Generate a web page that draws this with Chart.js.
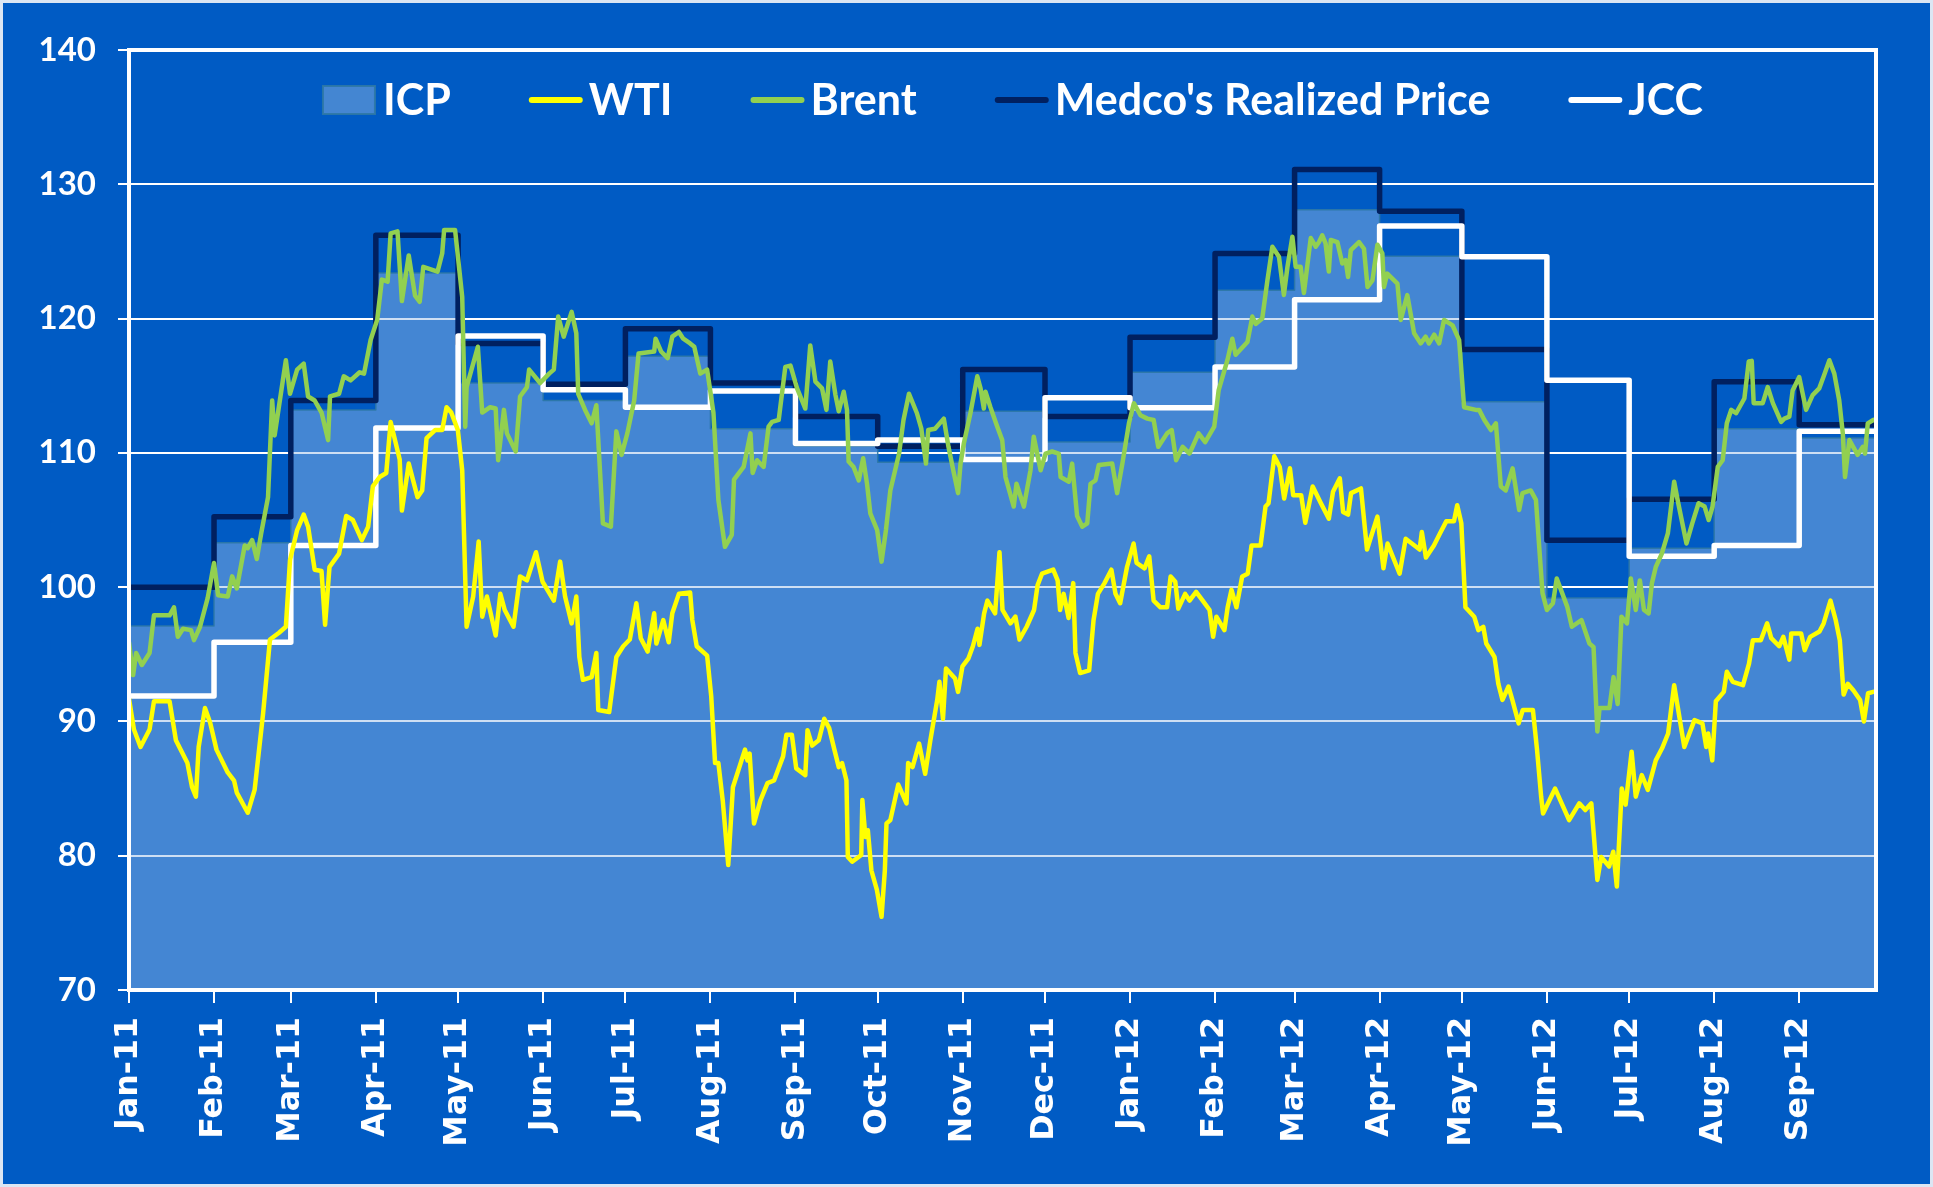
<!DOCTYPE html>
<html>
<head>
<meta charset="utf-8">
<script src="https://cdn.jsdelivr.net/npm/chart.js@4.4.1/dist/chart.umd.min.js"></script>
<style>
html, body { margin: 0; padding: 0; background: #005BC4; }
#wrap { width: 1933px; height: 1187px; position: relative; }
#edge { position: absolute; left: 0; top: 0; width: 1933px; height: 1187px; box-sizing: border-box;
        border: 3px solid #DCE6F3; pointer-events: none; }
canvas { display: block; }
</style>
</head>
<body>
<div id="wrap"><canvas id="chart" width="1933" height="1187"></canvas><div id="edge"></div></div>
<script>
// ---------- DATA ----------
const monthLabels = ['Jan-11','Feb-11','Mar-11','Apr-11','May-11','Jun-11','Jul-11','Aug-11','Sep-11','Oct-11','Nov-11','Dec-11',
                     'Jan-12','Feb-12','Mar-12','Apr-12','May-12','Jun-12','Jul-12','Aug-12','Sep-12'];
const yTickValues = [70, 80, 90, 100, 110, 120, 130, 140];

// monthly series (US$/bbl)
const icpMonthly   = [97.1, 103.3, 113.2, 123.4, 115.2, 113.9, 117.2, 111.8, 110.5, 109.3, 113.1, 110.8,
                      116.0, 122.1, 128.1, 124.65, 113.8, 99.2, 102.9, 111.8, 111.1];
const medcoMonthly = [100.0, 105.25, 113.9, 126.2, 118.15, 115.1, 119.25, 115.2, 112.7, 110.5, 116.2, 112.7,
                      118.6, 124.85, 131.1, 128.0, 117.7, 103.5, 106.55, 115.3, 112.1];
const jccMonthly   = [91.9, 95.9, 103.1, 111.85, 118.7, 114.7, 113.4, 114.6, 110.7, 110.95, 109.5, 114.1,
                      113.35, 116.4, 121.4, 126.9, 124.6, 115.4, 102.3, 103.1, 111.6];

// daily-ish series: days since 1 Jan 2011, price
const wtiDays = [
  0,1.8,4.2,7.5,9.1,14.8,17.1,21.3,23.0,24.4,
  25.4,27.7,29.6,31.9,36.0,38.3,39.3,43.3,45.8,48.9,
  51.4,54.7,57.2,58.7,61.3,63.7,65.3,67.7,70.2,71.5,
  73.1,76.6,79.2,81.6,84.9,87.2,88.9,91.4,93.8,95.4,
  98.7,99.5,102.0,105.2,106.9,108.5,111.6,114.2,115.8,117.5,
  119.9,121.5,123.1,125.5,127.5,128.8,130.5,133.7,135.4,137.0,
  140.2,142.6,145.1,148.4,150.8,154.9,157.2,159.0,161.4,163.1,
  164.2,165.5,168.7,170.4,171.1,175.1,177.7,180.2,182.6,185.0,
  186.6,189.1,191.5,192.3,194.8,196.8,198.1,200.5,204.6,205.4,
  207.0,210.8,212.3,213.7,214.9,216.5,218.5,220.2,224.6,225.5,
  226.3,227.9,230.2,232.8,235.2,238.5,239.7,241.7,243.3,246.6,
  247.4,249.1,251.5,253.5,255.3,257.2,258.8,260.0,261.6,262.1,
  263.7,267.0,267.4,268.5,269.4,270.7,272.7,274.4,275.6,276.2,
  277.6,280.5,283.5,284.1,285.7,288.1,290.3,292.2,294.7,295.5,
  296.8,297.9,301.2,302.3,303.9,306.1,307.7,309.4,310.1,311.8,
  313.0,315.8,317.4,318.5,321.4,323.2,324.7,327.3,330.0,331.3,
  332.9,337.0,338.6,339.5,340.8,342.6,344.3,345.1,346.8,350.1,
  351.7,353.3,355.7,358.2,359.7,361.4,363.9,366.3,367.4,370.3,
  372.0,373.6,376.1,378.5,379.8,381.5,382.6,385.1,386.7,389.1,
  391.5,394.0,395.3,396.5,399.4,400.6,402.0,403.8,405.9,407.9,
  409.3,412.6,414.4,415.5,417.6,419.6,421.2,423.3,424.5,427.4,
  428.9,431.6,434.6,437.5,439.0,441.5,442.7,444.5,445.6,449.2,
  451.4,455.2,457.4,458.9,463.3,465.5,470.6,471.4,472.9,475.8,
  478.0,480.3,483.1,484.3,485.8,487.3,490.5,492.0,493.8,494.9,
  497.9,499.3,500.8,503.0,504.4,506.7,508.2,511.9,513.4,514.9,
  515.6,520.0,525.1,528.8,531.0,533.2,535.4,536.8,539.7,541.2,
  542.5,544.3,545.7,547.9,549.4,551.6,553.8,556.7,559.0,561.2,
  563.4,567.1,570.8,573.7,575.1,575.8,577.3,578.6,581.5,582.6,
  584.8,588.5,590.7,592.1,595.0,597.3,598.8,601.7,603.2,605.4,
  606.1,609.7,611.0,613.0,616.4,617.9,620.4,622.3,623.8,625.2,
  626.7,628.8,631.2,632.6,634.1,636
];
const wtiPrices = [
  91.7,89.4,88.1,89.4,91.5,91.5,88.6,86.9,85.1,84.4,
  88.1,91.0,89.9,87.9,86.2,85.6,84.7,83.2,84.9,90.6,
  96.1,96.6,97.05,102.0,104.25,105.4,104.5,101.3,101.2,97.2,
  101.5,102.5,105.3,105.0,103.5,104.5,107.5,108.2,108.5,112.3,
  109.5,105.7,109.2,106.7,107.2,111.1,111.7,111.7,113.4,113.0,
  111.7,108.7,97.05,99.3,103.4,97.8,99.3,96.4,99.5,98.3,
  97.05,100.8,100.5,102.6,100.4,99.0,101.9,99.3,97.3,99.3,
  94.8,93.1,93.3,95.1,90.85,90.7,94.8,95.6,96.1,98.8,
  96.2,95.2,98.05,95.8,97.55,95.9,98.05,99.5,99.6,97.55,
  95.6,94.9,91.85,86.9,86.9,84.1,79.3,85.1,87.9,87.1,
  87.6,82.4,84.1,85.4,85.6,87.4,89.0,89.0,86.5,86.0,
  89.35,88.2,88.6,90.2,89.5,87.9,86.6,86.9,85.6,79.9,
  79.55,80.05,84.15,81.4,81.9,78.9,77.45,75.45,78.9,82.4,
  82.65,85.3,83.9,86.9,86.6,88.35,86.1,88.6,91.6,92.95,
  90.2,93.95,93.2,92.2,94.1,94.7,95.6,96.9,95.7,98.05,
  99.0,98.05,102.6,98.3,97.3,97.8,96.1,97.05,98.3,100.15,
  101.0,101.3,100.5,98.3,99.5,97.7,100.3,95.1,93.6,93.8,
  97.55,99.5,100.3,101.3,99.5,98.8,101.5,103.25,101.8,101.4,
  102.3,99.0,98.5,98.5,100.8,100.4,98.4,99.5,99.0,99.65,
  99.0,98.3,96.3,97.8,96.8,98.5,99.8,98.5,100.8,101.0,
  103.1,103.1,106.0,106.25,109.75,108.95,106.6,108.85,106.85,106.85,
  104.8,107.5,106.25,105.1,107.1,108.1,105.6,105.4,107.0,107.35,
  102.8,105.25,101.4,103.25,101.0,103.6,102.8,104.1,102.2,103.1,
  104.0,104.9,104.9,106.1,104.75,98.5,97.8,96.8,97.05,95.8,
  94.8,92.8,91.6,92.6,91.6,89.85,90.85,90.85,87.9,84.4,
  83.15,85.0,82.65,83.9,83.4,83.9,78.2,79.9,79.2,80.3,
  77.7,85.0,83.8,87.75,84.4,86.0,84.9,87.1,88.0,89.1,
  92.7,88.1,90.1,89.85,88.1,89.1,87.1,91.5,92.2,93.7,
  92.95,92.7,94.3,96.05,96.05,97.3,96.2,95.6,96.3,94.6,
  96.55,96.55,95.3,96.3,96.7,97.3,99.0,97.55,96.05,92.0,
  92.8,92.3,91.6,90.0,92.1,92.2
];

const brentDays = [
  0,1.5,2.6,4.7,7.5,9.1,14.8,16.4,17.8,19.7,
  22.6,23.7,25.9,28.7,31.0,32.5,36.0,37.6,39.3,42.2,
  43.3,44.9,46.6,48.2,50.7,52.2,53.1,57.2,58.7,61.3,
  63.7,65.3,67.7,70.2,72.6,73.3,76.6,78.3,80.8,84.1,
  85.7,88.1,90.5,92.2,94.3,95.4,97.9,99.5,102.0,104.3,
  106.0,107.3,112.5,114.2,114.9,118.9,121.5,122.6,123.1,127.2,
  128.8,131.7,133.7,134.6,136.7,137.8,141.0,142.6,145.1,145.9,
  149.9,153.2,154.9,156.5,158.5,161.4,163.1,163.8,166.3,168.7,
  170.4,172.8,175.7,177.7,179.6,181.7,184.2,185.8,191.5,192.0,
  194.0,196.4,198.1,200.5,202.1,204.6,206.1,208.3,210.8,213.1,
  214.9,217.3,219.8,220.6,224.1,226.6,227.4,229.0,231.4,233.2,
  234.5,236.9,239.3,241.2,243.6,246.6,248.4,250.3,252.7,254.3,
  255.7,257.6,258.8,260.6,261.8,262.4,264.2,266.1,267.7,269.1,
  270.3,272.8,274.4,276.0,277.6,280.8,282.4,284.4,287.3,288.9,
  290.6,291.4,293.9,297.1,298.8,300.3,302.3,303.2,304.4,306.8,
  309.3,310.5,311.7,312.3,314.1,316.6,318.4,319.6,322.6,323.6,
  326.3,328.7,329.9,332.4,334.2,336.6,339.0,339.7,342.7,343.9,
  345.7,347.6,349.4,350.6,352.4,353.6,358.5,360.3,362.2,364.6,
  366.4,368.8,371.3,373.6,375.3,378.5,380.2,381.8,384.2,386.7,
  390.0,392.4,395.7,397.3,400.5,402.3,403.5,407.8,409.6,410.8,
  413.2,415.1,416.9,419.3,421.1,422.4,424.2,425.4,427.2,428.4,
  430.9,432.7,433.9,435.1,436.3,437.5,438.2,440.6,442.4,443.6,
  444.5,445.5,448.5,450.3,451.6,453.4,455.2,457.0,457.6,458.8,
  462.5,463.7,466.1,468.6,471.0,472.8,474.0,475.9,477.7,479.5,
  482.6,485.0,486.8,491.1,492.3,494.2,496.6,498.4,500.2,502.0,
  504.5,506.9,508.1,511.1,513.0,514.2,515.4,517.0,519.2,520.6,
  524.4,526.1,529.6,532.5,534.0,535.4,536.2,539.8,541.3,542.8,
  544.2,546.2,547.6,549.4,550.9,552.4,554.1,555.3,556.7,558.9,
  561.1,563.4,564.9,567.9,570.0,572.3,574.5,576.0,577.4,579.3,
  581.1,582.6,584.2,586.0,589.0,590.6,591.7,592.4,595.7,597.5,
  599.4,602.4,603.6,605.4,606.6,609.0,611.5,613.9,616.3,618.1,
  620.0,621.8,623.6,624.9,625.7,627.3,630.3,632.2,633.0,634.0,
  636
];
const brentPrices = [
  95.9,93.45,95.1,94.2,95.1,97.9,97.9,98.5,96.3,96.9,
  96.8,96.05,97.05,99.2,101.8,99.4,99.3,100.8,99.9,103.1,
  102.9,103.5,102.1,104.0,106.7,113.9,111.3,116.9,114.4,116.2,
  116.65,114.2,113.9,113.0,110.95,114.2,114.4,115.7,115.4,116.0,
  115.9,118.4,119.9,122.9,122.75,126.35,126.5,121.3,124.7,121.7,
  121.25,123.85,123.5,124.85,126.6,126.6,121.6,111.95,114.9,117.9,
  113.0,113.4,113.3,109.45,113.2,111.45,110.1,114.2,114.9,116.2,
  115.2,115.9,116.2,120.15,118.65,120.5,118.9,114.4,113.2,112.2,
  113.55,104.75,104.5,111.6,109.85,111.45,113.9,117.4,117.55,118.5,
  117.55,117.05,118.65,119.0,118.5,118.15,117.9,115.9,116.2,113.0,
  106.5,103.0,103.9,108.0,108.95,111.45,108.5,109.45,108.95,111.95,
  112.3,112.45,116.4,116.5,114.8,113.3,118.0,115.3,114.8,113.2,
  116.8,114.3,113.1,114.55,113.2,109.35,108.95,107.95,109.6,107.7,
  105.5,104.25,101.9,104.25,107.2,109.95,112.45,114.4,112.95,111.8,
  109.2,111.7,111.8,112.55,110.45,108.95,107.0,109.2,110.7,112.95,
  115.7,114.8,113.3,114.55,113.4,111.95,110.95,108.2,106.0,107.7,
  106.0,108.7,111.2,108.7,109.95,110.1,109.95,108.2,107.85,109.2,
  105.3,104.5,104.75,107.7,107.95,109.1,109.2,107.0,109.2,112.2,
  113.7,112.8,112.55,112.45,110.45,111.45,111.7,109.45,110.45,109.95,
  111.45,110.8,111.95,114.65,116.9,118.5,117.3,118.25,120.15,119.6,
  120.0,122.85,125.35,124.6,121.75,123.85,126.1,123.85,123.85,121.9,
  126.0,125.35,125.7,126.2,125.6,123.5,125.85,125.7,124.1,124.35,
  123.1,125.1,125.7,125.2,122.35,122.85,125.5,124.85,122.35,123.35,
  122.6,119.9,121.75,118.9,118.15,118.65,118.15,118.8,118.15,119.9,
  119.5,118.4,113.4,113.2,113.2,112.45,111.7,112.2,107.5,107.2,
  108.85,105.75,107.0,107.2,106.5,103.0,99.55,98.3,98.8,100.65,
  98.55,97.05,97.55,95.8,95.55,89.25,91.0,91.0,93.3,91.3,
  97.8,97.3,100.65,98.3,100.5,98.3,98.05,100.3,101.5,102.5,
  104.0,107.85,106.25,103.25,104.75,106.25,106.0,105.0,106.0,108.95,
  109.45,112.2,113.2,112.95,114.05,116.8,116.85,113.7,113.7,114.9,
  113.7,112.3,112.55,112.7,114.65,115.65,113.2,114.3,114.8,115.8,
  116.9,115.9,113.9,111.45,108.2,110.95,109.85,110.45,109.95,112.2,
  112.45
];

// ---------- helpers (build library data from the arrays) ----------
const DAY = 86400000;
const monthStartDays = monthLabels.map((_, i) => Math.round((Date.UTC(2011, i, 1) - Date.UTC(2011, 0, 1)) / DAY));
const axisEndDay = Math.round((Date.UTC(2012, 8, 29) - Date.UTC(2011, 0, 1)) / DAY);

function monthlyPoints(vals) {
  const pts = vals.map((v, i) => ({ x: monthStartDays[i], y: v }));
  pts.push({ x: axisEndDay, y: vals[vals.length - 1] });
  return pts;
}
function dailyPoints(days, vals) {
  const n = Math.min(days.length, vals.length);
  const pts = [];
  for (let i = 0; i < n; i++) pts.push({ x: days[i], y: vals[i] });
  return pts;
}

const X_FONT_FAMILY = '"DejaVu Sans", Verdana, sans-serif';
function fittedSize(family, weight, sample, targetWidth) {
  const c = document.createElement('canvas').getContext('2d');
  c.font = weight + ' 100px ' + family;
  const w = c.measureText(sample).width || 400;
  return Math.round(100 * targetWidth / w * 10) / 10;
}

// ---------- plugins ----------
const framePlugin = {
  id: 'frame',
  afterDatasetsDraw(chart) {
    const { ctx, chartArea: a } = chart;
    ctx.save();
    ctx.strokeStyle = '#FFFFFF';
    ctx.lineWidth = 4;
    ctx.strokeRect(a.left, a.top, a.right - a.left, a.bottom - a.top);
    ctx.restore();
  }
};

const insideLegend = {
  id: 'insideLegend',
  afterDraw(chart) {
    const { ctx, chartArea: a } = chart;
    const items = chart.data.datasets;
    ctx.save();
    ctx.font = 'bold 43px Lato';
    const sym = 54, gapSym = 6, gapItem = 78;
    const widths = items.map(ds => ctx.measureText(ds.label).width);
    const total = widths.reduce((s, w) => s + sym + gapSym + w, 0) + gapItem * (items.length - 1);
    let x = 1013 - total / 2;
    const cy = a.top + 50;
    items.forEach((ds, k) => {
      if (ds.fill) {
        ctx.fillStyle = ds.legendColor;
        ctx.fillRect(x, cy - 14, sym - 2, 28);
        ctx.strokeStyle = ds.borderColor;
        ctx.lineWidth = 2;
        ctx.strokeRect(x, cy - 14, sym - 2, 28);
      } else {
        ctx.strokeStyle = ds.borderColor;
        ctx.lineWidth = 6;
        ctx.lineCap = 'round';
        ctx.beginPath();
        ctx.moveTo(x + 3, cy);
        ctx.lineTo(x + sym - 3, cy);
        ctx.stroke();
      }
      ctx.fillStyle = '#FFFFFF';
      ctx.textBaseline = 'alphabetic';
      ctx.textAlign = 'left';
      ctx.fillText(ds.label, x + sym + gapSym, cy + 15);
      x += sym + gapSym + widths[k] + gapItem;
    });
    ctx.restore();
  }
};

// ---------- chart ----------
function build() {
  const xFontSize = fittedSize(X_FONT_FAMILY, 'bold', 'May-11', 130);
  const ctx = document.getElementById('chart').getContext('2d');
  new Chart(ctx, {
    type: 'line',
    data: {
      datasets: [
        { label: 'ICP', data: monthlyPoints(icpMonthly), stepped: 'before', fill: 'start',
          backgroundColor: 'rgba(148,185,228,0.46)', legendColor: '#4486D2',
          borderColor: 'rgba(45,120,165,0.9)', borderWidth: 1.5, order: 4 },
        { label: 'WTI', data: dailyPoints(wtiDays, wtiPrices), borderColor: '#FFFF00', borderWidth: 4.5,
          fill: false, order: 1 },
        { label: 'Brent', data: dailyPoints(brentDays, brentPrices), borderColor: '#92D050', borderWidth: 4.5,
          fill: false, order: 0 },
        { label: "Medco's Realized Price", data: monthlyPoints(medcoMonthly), stepped: 'before',
          borderColor: '#002060', borderWidth: 5.5, fill: false, order: 3 },
        { label: 'JCC', data: monthlyPoints(jccMonthly), stepped: 'before',
          borderColor: '#FFFFFF', borderWidth: 5.5, fill: false, order: 2 }
      ]
    },
    options: {
      responsive: false,
      animation: false,
      events: [],
      layout: { padding: { top: 50, right: 57, bottom: 0, left: 0 } },
      elements: {
        point: { radius: 0 },
        line: { tension: 0, borderJoinStyle: 'round', borderCapStyle: 'round' }
      },
      plugins: { legend: { display: false }, tooltip: { enabled: false } },
      scales: {
        x: {
          type: 'linear',
          min: 0,
          max: axisEndDay,
          afterBuildTicks: s => { s.ticks = monthStartDays.map(v => ({ value: v })); },
          afterFit: s => { s.height = 197; },
          ticks: {
            autoSkip: false, minRotation: 90, maxRotation: 90, padding: 14,
            color: '#FFFFFF',
            font: { family: X_FONT_FAMILY, size: xFontSize, weight: 'bold' },
            callback: (v, i) => monthLabels[i]
          },
          grid: { drawOnChartArea: false, color: '#FFFFFF', lineWidth: 2, tickLength: 13 },
          border: { display: true, color: '#FFFFFF', width: 4 }
        },
        y: {
          min: 70,
          max: 140,
          afterBuildTicks: s => { s.ticks = yTickValues.map(v => ({ value: v })); },
          afterFit: s => { s.width = 129; },
          ticks: {
            padding: 22, color: '#FFFFFF',
            font: { family: 'Lato', size: 33, weight: 'bold' }
          },
          grid: { color: '#FFFFFF', lineWidth: 2, tickLength: 11, tickColor: '#FFFFFF' },
          border: { display: true, color: '#FFFFFF', width: 4 }
        }
      }
    },
    plugins: [framePlugin, insideLegend]
  });
}

const fontLoads = ['bold 43px Lato', 'bold 33px Lato', 'bold 32px "DejaVu Sans"'].map(f => document.fonts.load(f));
Promise.all(fontLoads).then(build, build);
</script>
</body>
</html>
